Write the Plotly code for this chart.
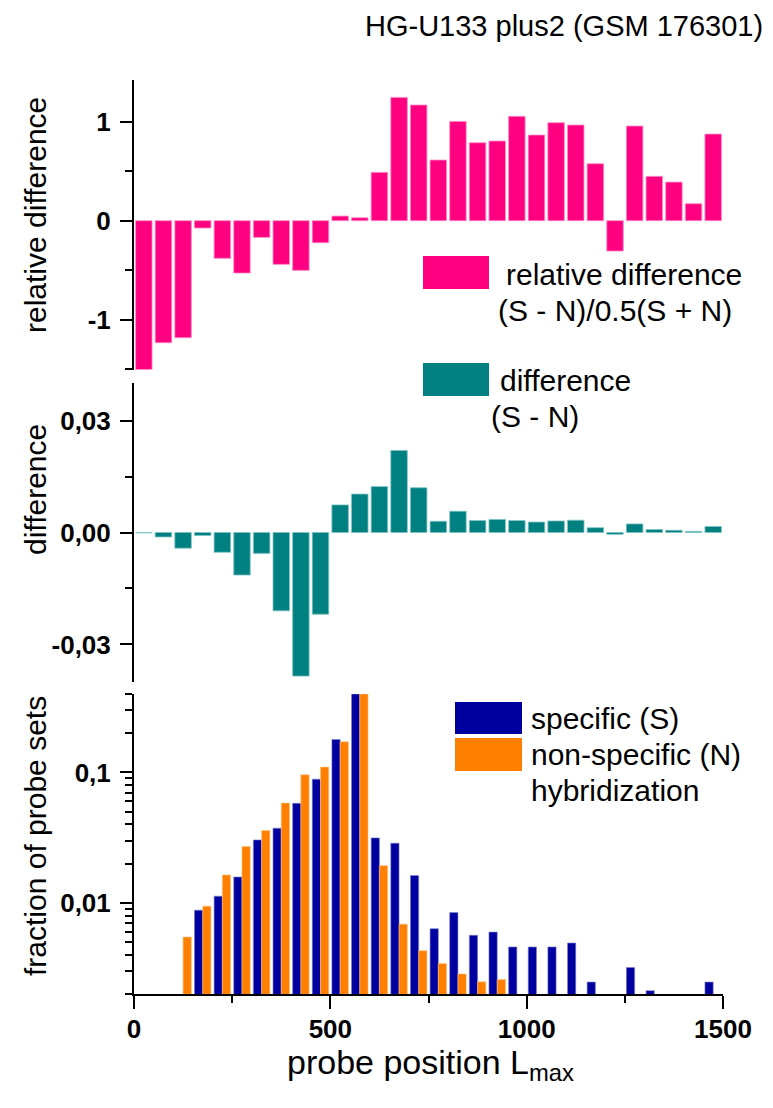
import math
import plotly.graph_objects as go
from plotly.subplots import make_subplots

# ---------------- data ----------------
bin_centers = list(range(25, 1500, 50))  # probe position bins (50 nt wide)

rel_diff = [-1.505, -1.235, -1.184, -0.074, -0.381, -0.530, -0.169, -0.442, -0.503, -0.223,
            0.047, 0.030, 0.489, 1.248, 1.171, 0.614, 1.005, 0.789, 0.806, 1.056,
            0.867, 0.992, 0.968, 0.577, -0.307, 0.958, 0.449, 0.391, 0.172, 0.877]

diff = [-0.0001, -0.0012, -0.0042, -0.0008, -0.0053, -0.0114, -0.0056, -0.0210, -0.0385, -0.0219,
        0.0074, 0.0103, 0.0123, 0.0220, 0.0120, 0.0030, 0.0057, 0.0032, 0.0035, 0.0032,
        0.0028, 0.0031, 0.0033, 0.0013, -0.0005, 0.0023, 0.0008, 0.0006, 0.0003, 0.0016]

specific = [None, None, None, 0.00879, 0.01125, 0.0158, 0.0304, 0.0374, 0.058, 0.0889,
            0.179, 0.40, 0.0315, 0.0287, 0.0162, 0.00634, 0.00843, 0.00564, 0.00597, 0.00459,
            0.00459, 0.00459, 0.00492, 0.00247, None, 0.00319, 0.00212, None, None, 0.00247]

nonspecific = [None, None, 0.00547, 0.00944, 0.01637, 0.0271, 0.0359, 0.0583, 0.096, 0.110,
               0.172, 0.40, 0.0193, 0.00687, 0.0043, 0.00342, 0.00285, 0.00248, 0.00258, None,
               None, None, None, None, None, None, None, None, None, None]

x_ticks = [0, 500, 1000, 1500]
x_minor = [250, 750, 1250]
rel_ticks = [-1, 0, 1]
rel_ticktext = ["-1", "0", "1"]
rel_minor = [-1.5, -0.5, 0.5]
diff_ticks = [-0.03, 0.0, 0.03]
diff_ticktext = ["-0,03", "0,00", "0,03"]
diff_minor = [-0.015, 0.015]
frac_ticks = [0.01, 0.1]
frac_ticktext = ["0,01", "0,1"]
frac_minor = [0.002, 0.003, 0.004, 0.005, 0.006, 0.007, 0.008, 0.009,
              0.02, 0.03, 0.04, 0.05, 0.06, 0.07, 0.08, 0.09, 0.2, 0.3, 0.4]

PINK = "#FF0080"
TEAL = "#008080"
BLUE = "#0000A0"
ORANGE = "#FF8000"

# ---------------- geometry helpers ----------------
# page body has an 8px margin: figure origin sits at screen (8, 8)
OFF = 8
W, H = 773 - OFF, 1108 - OFF
L, R, T, B = 134 - OFF, 50, 80 - OFF, 114


def px_x(px):
    return (px - OFF - L) / (W - L - R)


def px_y(py):
    return (H - B - (py - OFF)) / (H - T - B)


fig = make_subplots(rows=3, cols=1)

fig.add_trace(go.Bar(x=bin_centers, y=rel_diff, marker=dict(color=PINK, line=dict(color="#FF8CC6", width=0.8)),
                     showlegend=False), row=1, col=1)
fig.add_trace(go.Bar(x=bin_centers, y=diff, marker=dict(color=TEAL, line=dict(color="#7FC4C4", width=0.8)),
                     showlegend=False), row=2, col=1)
fig.add_trace(go.Bar(x=bin_centers, y=specific, marker=dict(color=BLUE, line=dict(color="#8080D0", width=0.6)),
                     showlegend=False), row=3, col=1)
fig.add_trace(go.Bar(x=bin_centers, y=nonspecific, marker=dict(color=ORANGE, line=dict(color="#FFC080", width=0.6)),
                     showlegend=False), row=3, col=1)

tickfont = dict(family="Liberation Sans", size=26, color="black", weight="bold")
common_y = dict(showline=True, linecolor="black", linewidth=2, ticks="outside", ticklen=12,
                tickwidth=2, tickcolor="black", showgrid=False, zeroline=False, tickfont=tickfont,
                ticklabelstandoff=4)

fig.update_layout(
    width=W, height=H,
    margin=dict(l=L, r=R, t=T, b=B),
    paper_bgcolor="white", plot_bgcolor="white",
    barmode="group", bargap=0.16, bargroupgap=0.0,
    showlegend=False,
    xaxis=dict(range=[0, 1500], visible=False, domain=[0, 1]),
    xaxis2=dict(range=[0, 1500], visible=False, domain=[0, 1]),
    xaxis3=dict(range=[0, 1500], domain=[0, 1], showline=True, linecolor="black", linewidth=2,
                ticks="outside", ticklen=13, tickwidth=2, tickcolor="black", showgrid=False,
                zeroline=False, tickvals=x_ticks, ticktext=[str(v) for v in x_ticks],
                tickfont=tickfont, ticklabelstandoff=-2,
                minor=dict(tickvals=x_minor, ticks="outside", ticklen=7, tickwidth=2, tickcolor="black")),
    yaxis=dict(common_y, domain=[px_y(370), px_y(80)], range=[-1.511, 1.424],
               tickvals=rel_ticks, ticktext=rel_ticktext,
               minor=dict(tickvals=rel_minor, ticks="outside", ticklen=7, tickwidth=2, tickcolor="black")),
    yaxis2=dict(common_y, domain=[px_y(681.7), px_y(383.3)], range=[-0.04, 0.04],
                tickvals=diff_ticks, ticktext=diff_ticktext,
                minor=dict(tickvals=diff_minor, ticks="outside", ticklen=7, tickwidth=2, tickcolor="black")),
    yaxis3=dict(common_y, type="log", domain=[0, px_y(694)],
                range=[math.log10(0.002), math.log10(0.4)],
                tickvals=frac_ticks, ticktext=frac_ticktext,
                minor=dict(tickvals=frac_minor, ticks="outside", ticklen=7, tickwidth=2, tickcolor="black")),
)

# ---------------- legend swatches (drawn as shapes) ----------------
swatches = [
    (423, 256, 489, 289, PINK),
    (423, 363, 489, 396, TEAL),
    (455, 702, 522, 734, BLUE),
    (455, 738, 522, 771, ORANGE),
]
for x0, y0, x1, y1, c in swatches:
    fig.add_shape(type="rect", xref="paper", yref="paper",
                  x0=px_x(x0), x1=px_x(x1), y0=px_y(y1), y1=px_y(y0),
                  fillcolor=c, line=dict(width=0))

TEXT_FONT = "Liberation Sans"


def add_text(text, px, py, size=30, xanchor="left", angle=0):
    fig.add_annotation(text=text, xref="paper", yref="paper", x=px_x(px), y=px_y(py),
                       xanchor=xanchor, yanchor="middle", showarrow=False, textangle=angle,
                       font=dict(family=TEXT_FONT, size=size, color="black"))


# legend texts
add_text("relative difference", 504, 274)
add_text("(S - N)/0.5(S + N)", 496, 310)
add_text("difference", 498, 380)
add_text("(S - N)", 489, 416)
add_text("specific (S)", 529, 718)
add_text("non-specific (N)", 529, 754)
add_text("hybridization", 529, 790)

# title
add_text("HG-U133 plus2 (GSM 176301)", 765, 26, size=29, xanchor="right")

# axis titles
add_text("relative difference", 35, 215, size=30, xanchor="center", angle=-90)
add_text("difference", 35, 490, size=30, xanchor="center", angle=-90)
add_text("fraction of probe sets", 35, 836, size=30, xanchor="center", angle=-90)
add_text("probe position L<sub>max</sub>", 430, 1064, size=34, xanchor="center")

fig.write_html("out.html")
